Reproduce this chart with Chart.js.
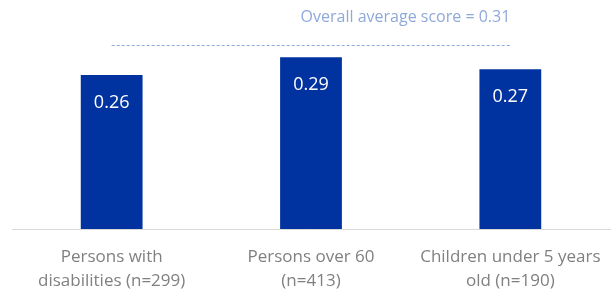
<!DOCTYPE html>
<html>
<head>
<meta charset="utf-8">
<script src="https://cdn.jsdelivr.net/npm/chart.js@4"></script>
<style>
  html, body { margin: 0; padding: 0; background: #fff; }
  #wrap { width: 613px; height: 297px; }
</style>
</head>
<body>
<div id="wrap"><canvas id="scoreChart"></canvas></div>
<script>
const categories = [
    ['Persons with', 'disabilities (n=299)'],
    ['Persons over 60', '(n=413)'],
    ['Children under 5 years', 'old (n=190)']
];
const scores = [0.26, 0.29, 0.27];
const overallAverage = 0.31;
const averageLabel = 'Overall average score = ' + overallAverage;

const FONT = "'Open Sans', sans-serif";

// white value labels inside each bar + dashed average line
const overlayPlugin = {
    id: 'overlay',
    afterDatasetsDraw(chart) {
        const ctx = chart.ctx;
        const meta = chart.getDatasetMeta(0);
        ctx.save();
        ctx.fillStyle = '#ffffff';
        ctx.font = '18px ' + FONT;
        ctx.textAlign = 'center';
        ctx.textBaseline = 'middle';
        meta.data.forEach((bar, i) => {
            ctx.fillText(scores[i].toFixed(2), bar.x, bar.y + 28);
        });

        const x = chart.scales.x;
        const y = chart.scales.y;
        const yAvg = Math.round(y.getPixelForValue(overallAverage));
        const x0 = x.getPixelForValue(0);
        const x1 = x.getPixelForValue(2);
        ctx.strokeStyle = '#8FAADC';
        ctx.lineWidth = 1;
        ctx.setLineDash([3, 2]);
        ctx.beginPath();
        ctx.moveTo(x0, yAvg + 0.5);
        ctx.lineTo(x1, yAvg + 0.5);
        ctx.stroke();
        ctx.setLineDash([]);

        ctx.fillStyle = '#8EA9DB';
        ctx.font = '16px ' + FONT;
        ctx.textAlign = 'right';
        ctx.fillText(averageLabel, x1, yAvg - 28);
        ctx.restore();
    }
};

const ctx = document.getElementById('scoreChart').getContext('2d');
const myChart = new Chart(ctx, {
    type: 'bar',
    data: {
        labels: categories,
        datasets: [{
            data: scores,
            backgroundColor: '#0033A0',
            barPercentage: 0.31,
            categoryPercentage: 1.0
        }]
    },
    options: {
        responsive: true,
        maintainAspectRatio: false,
        animation: false,
        layout: { padding: { left: 12, right: 3, top: 4, bottom: 0 } },
        plugins: {
            legend: { display: false },
            tooltip: { enabled: false }
        },
        scales: {
            x: {
                grid: { display: false, drawTicks: false },
                border: { display: true, color: '#D9D9D9', width: 1 },
                ticks: {
                    color: '#808080',
                    font: { family: FONT, size: 17, lineHeight: 1.41 },
                    padding: 16,
                    maxRotation: 0,
                    autoSkip: false
                },
                afterFit(scale) {
                    scale.height = 68;
                    scale.paddingLeft = 0;
                    scale.paddingRight = 0;
                }
            },
            y: {
                display: false,
                min: 0,
                max: 0.38
            }
        }
    },
    plugins: [overlayPlugin]
});
</script>
</body>
</html>
